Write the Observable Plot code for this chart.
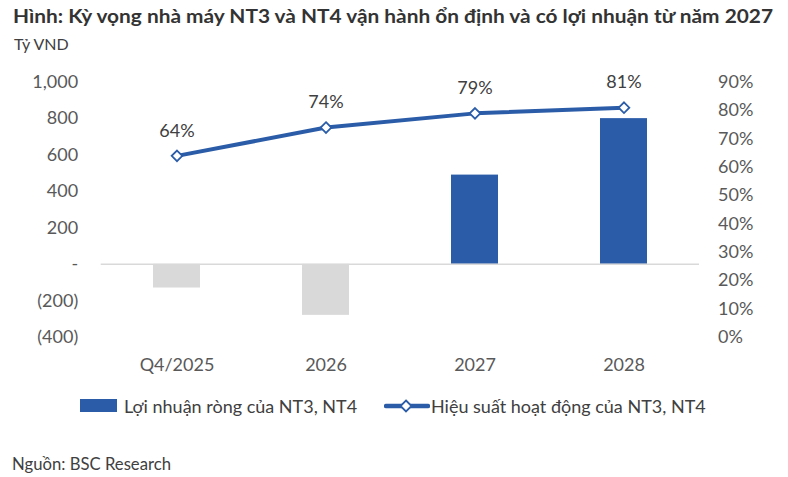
<!DOCTYPE html>
<html>
<head>
<meta charset="utf-8">
<script src="https://cdn.jsdelivr.net/npm/d3@7"></script>
<script src="https://cdn.jsdelivr.net/npm/@observablehq/plot@0.6"></script>
<style>
  html, body { margin: 0; padding: 0; background: #fff; }
  #wrap { position: relative; width: 788px; height: 477px; font-family: Lato, sans-serif; color: #404040; }
  #wrap > div, #legend > * { position: absolute; white-space: nowrap; line-height: 1; }
  #title { left: 13px; top: 6px; font-weight: 700; font-size: 19.5px; color: #333; transform-origin: 0 0; }
  #unit { left: 14px; top: 36px; font-size: 16px; color: #404040; }
  #chart { left: 0; top: 50px; }
  #legend { left: 0; top: 0; font-size: 18px; color: #404040; }
  #source { left: 12px; top: 455.5px; font-size: 16.7px; color: #404040; }
</style>
</head>
<body>
<div id="wrap">
  <div id="title">Hình: Kỳ vọng nhà máy NT3 và NT4 vận hành ổn định và có lợi nhuận từ năm 2027</div>
  <div id="unit">Tỷ VND</div>
  <div id="chart"></div>
  <div id="legend"></div>
  <div id="source">Nguồn: BSC Research</div>
</div>
<script>
// Periods on the x axis
const periods = ["Q4/2025", "2026", "2027", "2028"];
// Net profit of NT3 & NT4 (billion VND)
const netProfit = [-130, -280, 490, 800];
// Operating efficiency of NT3 & NT4
const efficiency = [0.64, 0.74, 0.79, 0.81];
// Axis ticks
const leftTicks = [-400, -200, 0, 200, 400, 600, 800, 1000];
const rightTicks = [0, 0.1, 0.2, 0.3, 0.4, 0.5, 0.6, 0.7, 0.8, 0.9];

const seriesNames = ["Lợi nhuận ròng của NT3, NT4", "Hiệu suất hoạt động của NT3, NT4"];

const BLUE = "#2b5ca8";
const GREY = "#d9d9d9";
const LABEL = "#595959";

// The right (percent) axis shares the frame with the left axis: 0%..90% spans -400..1000
const yMin = -400, yMax = 1000, pMax = 0.9;
const toLeft = p => yMin + (p / pMax) * (yMax - yMin);
const fromLeft = v => (v - yMin) / (yMax - yMin) * pMax;

const rows = periods.map((p, i) => ({ period: p, profit: netProfit[i], rate: efficiency[i] }));

const fmtLeft = v => v === 0 ? "-" : v < 0 ? `(${d3.format(",")(-v)})` : d3.format(",")(v);

const chart = Plot.plot({
  width: 788,
  height: 330,
  marginTop: 31.7,
  marginBottom: 43.3,
  marginLeft: 100.7,
  marginRight: 89,
  style: { fontFamily: "Lato, sans-serif", fontSize: "18px", color: LABEL, background: "transparent" },
  x: { domain: periods, paddingInner: 0.686, paddingOuter: 0.343, label: null },
  y: { domain: [yMin, yMax], label: null },
  marks: [
    Plot.axisY(leftTicks, { anchor: "left", tickSize: 0, tickPadding: 23, tickFormat: fmtLeft, fontSize: 18, fill: LABEL }),
    Plot.axisY(rightTicks.map(toLeft), { anchor: "right", tickSize: 0, textAnchor: "start", tickPadding: 18.5, tickFormat: v => d3.format(".0%")(fromLeft(v)), fontSize: 18, fill: LABEL }),
    Plot.axisX({ tickSize: 0, tickPadding: 21.5, fontSize: 18, fill: LABEL }),
    Plot.barY(rows, { x: "period", y: "profit", fill: d => d.profit < 0 ? GREY : BLUE }),
    Plot.ruleY([0], { stroke: GREY, strokeWidth: 1.5 }),
    Plot.line(rows, { x: "period", y: d => toLeft(d.rate), stroke: BLUE, strokeWidth: 4 }),
    Plot.dot(rows, { x: "period", y: d => toLeft(d.rate), symbol: "diamond2", r: 4.8, fill: "white", stroke: BLUE, strokeWidth: 1.8 }),
    Plot.text(rows, { x: "period", y: d => toLeft(d.rate), text: d => d3.format(".0%")(d.rate), dy: -25, fontSize: 18, fill: "#404040" })
  ]
});
document.getElementById("chart").appendChild(chart);

// Stretch the heading to its full line width
const title = document.getElementById("title");
title.style.transform = `scaleX(${760 / title.getBoundingClientRect().width})`;

// Legend: bar swatch, line-with-marker swatch, and their labels
const legend = document.getElementById("legend");
legend.innerHTML = `
  <svg style="left:80px;top:399px" width="38" height="14"><rect x="0" y="0" width="37" height="13" fill="${BLUE}"/></svg>
  <span style="left:124px;top:397px">${seriesNames[0]}</span>
  <svg style="left:384px;top:399px" width="46" height="14"><line x1="2" y1="7" x2="44" y2="7" stroke="${BLUE}" stroke-width="4.5" stroke-linecap="round"/><path d="M22,1.5 L27.5,7 L22,12.5 L16.5,7 Z" fill="white" stroke="${BLUE}" stroke-width="1.8"/></svg>
  <span style="left:431px;top:397px">${seriesNames[1]}</span>`;
</script>
</body>
</html>
